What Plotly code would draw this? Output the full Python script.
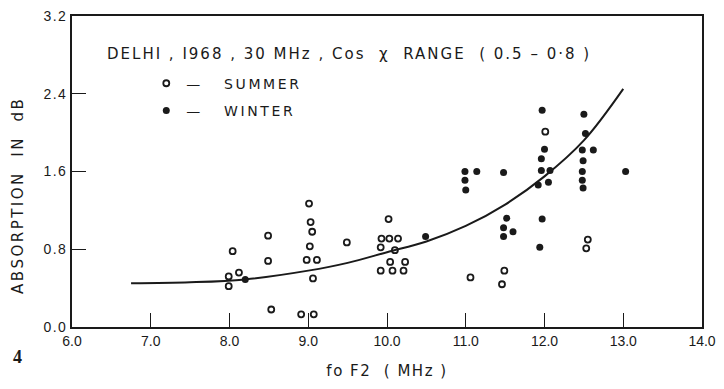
import plotly.graph_objects as go

# Summer (open circles)
summer_x = [8.04, 7.99, 7.99, 8.12, 8.49, 8.49, 8.53, 9.01, 9.03, 9.05, 9.02, 8.98, 9.11, 9.06,
            8.91, 9.07, 9.49, 10.02, 9.93, 10.03, 10.14, 9.92, 10.10, 10.04, 10.23, 9.92, 10.07,
            10.21, 12.01, 11.06, 11.49, 11.46, 12.55, 12.53]
summer_y = [0.78, 0.52, 0.42, 0.56, 0.94, 0.68, 0.18, 1.27, 1.08, 0.98, 0.83, 0.69, 0.69, 0.50,
            0.13, 0.13, 0.87, 1.11, 0.91, 0.91, 0.91, 0.82, 0.79, 0.67, 0.67, 0.58, 0.58,
            0.58, 2.01, 0.51, 0.58, 0.44, 0.90, 0.81]

# Winter (filled circles)
winter_x = [8.20, 10.49, 10.99, 10.99, 11.00, 11.14, 11.48, 11.52, 11.48, 11.60, 11.48,
            11.97, 12.00, 11.96, 11.96, 12.07, 11.92, 12.05, 11.97, 11.94,
            12.50, 12.52, 12.48, 12.62, 12.49, 12.48, 12.48, 12.49, 13.03]
winter_y = [0.49, 0.93, 1.60, 1.51, 1.41, 1.60, 1.59, 1.12, 1.02, 0.98, 0.93,
            2.23, 1.83, 1.73, 1.61, 1.61, 1.46, 1.49, 1.11, 0.82,
            2.19, 1.99, 1.82, 1.82, 1.71, 1.60, 1.51, 1.43, 1.60]

# Fitted curve
curve_x = [6.75, 7.5, 8.2, 9.0, 9.5, 10.0, 10.5, 11.0, 11.5, 12.0, 12.5, 13.0]
curve_y = [0.45, 0.46, 0.49, 0.58, 0.66, 0.77, 0.88, 1.04, 1.26, 1.55, 1.92, 2.45]

x_ticks = [6.0, 7.0, 8.0, 9.0, 10.0, 11.0, 12.0, 13.0, 14.0]
x_ticktext = ["6.0", "7.0", "8.0", "9.0", "10.0", "11.0", "12.0", "13.0", "14.0"]
y_ticks = [0.0, 0.8, 1.6, 2.4, 3.2]
y_ticktext = ["0.0", "0.8", "1.6", "2.4", "3.2"]

INK = "#1a1a1a"
FONT = "Liberation Sans"


def spaced(text, ls):
    return f'<span style="letter-spacing:{ls}px">{text}</span>'


fig = go.Figure()
fig.add_trace(go.Scatter(x=curve_x, y=curve_y, mode="lines", line=dict(color=INK, width=2, shape="spline"),
                         showlegend=False, hoverinfo="skip"))
fig.add_trace(go.Scatter(x=summer_x, y=summer_y, mode="markers", name=spaced("—   SUMMER", 2.6),
                         legendgroup="s",
                         marker=dict(symbol="circle-open", size=6, color=INK, line=dict(width=1.8, color=INK))))
fig.add_trace(go.Scatter(x=winter_x, y=winter_y, mode="markers", name=spaced("—   WINTER", 2.6),
                         legendgroup="w",
                         marker=dict(symbol="circle", size=7, color=INK)))

W, H = 724, 389
L, R, T, B = 72, 16, 8, 62


def px(x):
    return (x - L) / (W - L - R)


def py(y):
    return (H - B - y) / (H - T - B)


fig.update_layout(
    width=W, height=H,
    margin=dict(l=L, r=R, t=T, b=B),
    paper_bgcolor="white", plot_bgcolor="white",
    font=dict(family=FONT, size=14, color=INK),
    legend=dict(x=px(147), y=py(61), xanchor="left", yanchor="top",
                font=dict(family="DejaVu Sans", size=14, color=INK),
                bgcolor="rgba(0,0,0,0)", tracegroupgap=6),
    xaxis=dict(range=[6.0, 14.0], tickvals=x_ticks, ticktext=x_ticktext, ticks="inside", ticklen=14,
               tickwidth=1.3, tickcolor=INK, showline=True, linecolor=INK, linewidth=1.6, mirror=True,
               showgrid=False, zeroline=False,
               title=dict(text=spaced("fo F2  ( MHz )", 1.5), font=dict(family="DejaVu Sans", size=15),
                          standoff=18)),
    yaxis=dict(range=[0.0, 3.2], tickvals=y_ticks, ticktext=[spaced(t, 1.5) for t in y_ticktext],
               ticks="inside", ticklen=14,
               tickwidth=1.3, tickcolor=INK, showline=True, linecolor=INK, linewidth=1.6, mirror=True,
               showgrid=False, zeroline=False),
    annotations=[
        dict(text=spaced("DELHI , I968 , 30 MHz , Cos  χ  RANGE  ( 0.5 – 0·8 )", 2.0),
             xref="paper", yref="paper",
             x=px(105), y=py(47), xanchor="left", yanchor="middle", showarrow=False,
             font=dict(family="DejaVu Sans", size=15, color=INK)),
        dict(text=spaced("ABSORPTION  IN  dB", 2.5), xref="paper", yref="paper", x=px(18), y=py(192),
             xanchor="center", yanchor="middle", textangle=-90, showarrow=False,
             font=dict(family="DejaVu Sans", size=15, color=INK)),
        dict(text="<b>4</b>", xref="paper", yref="paper", x=px(17), y=py(358),
             xanchor="center", yanchor="middle", showarrow=False,
             font=dict(family="Liberation Serif", size=18, color=INK)),
    ],
)

fig.write_html("out.html")
